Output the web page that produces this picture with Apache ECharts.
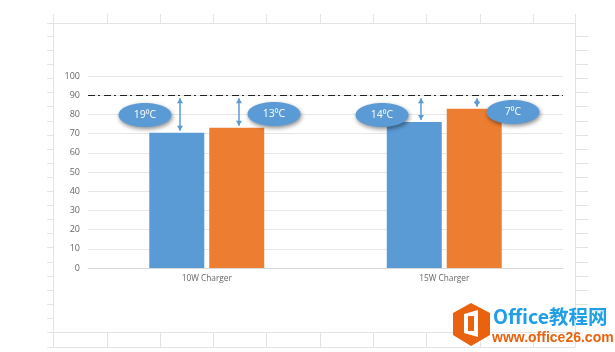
<!DOCTYPE html>
<html>
<head>
    <meta charset="utf-8">
    <style>html,body{margin:0;padding:0;background:#fff}</style>
</head>
<body>

<div id="main" style="width: 615px;height:352px;"></div>
<script src="https://cdn.jsdelivr.net/npm/echarts@6/dist/echarts.min.js"></script>
<script type="text/javascript">
    var categories = ['10W Charger', '15W Charger'];
    var seriesA = [70.5, 76];
    var seriesB = [73, 83];
    var limit = 90;
    var yTicks = [0, 10, 20, 30, 40, 50, 60, 70, 80, 90, 100];
    var notes = ['19⁰C', '13⁰C', '14⁰C', '7⁰C'];
    // 每个箭头对应的柱子的值
    var arrowValues = [seriesA[0], seriesB[0], seriesA[1], seriesB[1]];

    var sheetColor = '#e3e3e3';

    function line(x1, y1, x2, y2, z) {
        return {
            type: 'line', z: z || 0, silent: true,
            shape: {x1: x1, y1: y1, x2: x2, y2: y2},
            style: {stroke: sheetColor, lineWidth: 1}
        };
    }

    // 表格背景
    function sheetLines() {
        var list = [];
        var xs = [53, 107, 160, 213, 266, 320, 373, 426, 480, 533];
        xs.forEach(function (x) {
            list.push(line(x + 0.5, 14, x + 0.5, 23));
            list.push(line(x + 0.5, 332, x + 0.5, 347));
        });
        list.push(line(47, 23.5, 575, 23.5));
        list.push(line(47, 332.5, 575, 332.5));
        list.push(line(47, 347.5, 575, 347.5));
        list.push(line(53.5, 23, 53.5, 347));
        list.push(line(575.5, 14, 575.5, 347));
        for (var y = 36; y < 332; y += 14.1) {
            list.push(line(47, Math.round(y) + 0.5, 53, Math.round(y) + 0.5));
            list.push(line(576, Math.round(y) + 0.5, 588, Math.round(y) + 0.5));
        }
        return list;
    }

    function watermark() {
        return [
            {
                type: 'polygon', z: 20, silent: true,
                shape: {points: [[471, 303], [490, 313], [490, 335], [471, 346], [453, 335], [453, 313]]},
                style: {fill: '#e8620f'}
            },
            {
                type: 'polygon', z: 21, silent: true,
                shape: {points: [[464, 314], [478, 310], [478, 337], [464, 333]]},
                style: {fill: '#fff'}
            },
            {
                type: 'rect', z: 22, silent: true,
                shape: {x: 468, y: 316, width: 6, height: 15},
                style: {fill: '#e8620f'}
            },
            {
                type: 'text', z: 21, silent: true, x: 493, y: 307,
                style: {text: 'Office教程网', fill: '#1e9fe6', font: 'bold 19.5px "Noto Sans CJK SC", sans-serif'}
            },
            {
                type: 'text', z: 21, silent: true, x: 492, y: 331,
                style: {text: 'www.office26.com', fill: '#e8620f', font: 'bold 14px "Liberation Sans", sans-serif'}
            }
        ];
    }

    var option = {
        animation: false,
        backgroundColor: '#fff',
        grid: {left: 88, right: 52, top: 76, bottom: 84},
        xAxis: {
            type: 'category',
            data: categories,
            axisTick: {show: false},
            axisLine: {lineStyle: {color: '#d9d9d9'}},
            axisLabel: {color: '#666', fontSize: 8.3, fontFamily: 'Open Sans', margin: 7}
        },
        yAxis: {
            type: 'value',
            min: yTicks[0],
            max: yTicks[yTicks.length - 1],
            interval: 10,
            axisLine: {show: false},
            axisTick: {show: false},
            splitLine: {lineStyle: {color: '#e6e6e6'}},
            axisLabel: {color: '#666', fontSize: 9, fontFamily: 'Open Sans', margin: 8}
        },
        series: [
            {
                name: 'A', type: 'bar', data: seriesA, barWidth: 55, barGap: '9%',
                itemStyle: {color: '#5b9bd5'},
                markLine: {
                    silent: true, symbol: 'none', label: {show: false},
                    lineStyle: {color: '#222', width: 1.2, type: [7, 3, 2, 4]},
                    data: [{yAxis: limit}]
                }
            },
            {
                name: 'B', type: 'bar', data: seriesB, barWidth: 55,
                itemStyle: {color: '#ed7d31'}
            }
        ],
        graphic: sheetLines().concat(watermark())
    };
    var myChart = echarts.init(document.getElementById('main'));
    myChart.setOption(option);

    // 箭头和椭圆标注，纵向位置由数值换算
    var arrowX = [180, 239, 421, 477];
    var ellipses = [[145, 115], [274, 114], [382, 115], [513, 112]];
    var extra = [];
    arrowValues.forEach(function (v, i) {
        var top = myChart.convertToPixel({yAxisIndex: 0}, limit) + 3;
        var bottom = myChart.convertToPixel({yAxisIndex: 0}, v) - 2;
        var x = arrowX[i];
        extra.push({
            type: 'line', z: 30, silent: true,
            shape: {x1: x, y1: top, x2: x, y2: bottom},
            style: {stroke: '#5b9bd5', lineWidth: 1.5}
        });
        extra.push({
            type: 'polygon', z: 30, silent: true,
            shape: {points: [[x - 3, top + 5], [x, top], [x + 3, top + 5]]},
            style: {fill: '#5b9bd5'}
        });
        extra.push({
            type: 'polygon', z: 30, silent: true,
            shape: {points: [[x - 3, bottom - 5], [x, bottom], [x + 3, bottom - 5]]},
            style: {fill: '#5b9bd5'}
        });
        extra.push({
            type: 'ellipse', z: 31, silent: true,
            shape: {cx: ellipses[i][0], cy: ellipses[i][1], rx: 26.5, ry: 12},
            style: {fill: '#5b9bd5', shadowBlur: 4, shadowOffsetX: 1, shadowOffsetY: 2, shadowColor: 'rgba(0,0,0,0.45)'}
        });
        extra.push({
            type: 'text', z: 32, silent: true, x: ellipses[i][0], y: ellipses[i][1],
            style: {
                text: notes[i], fill: '#fff', align: 'center', verticalAlign: 'middle',
                font: '10.5px "Open Sans", sans-serif'
            }
        });
    });
    myChart.setOption({graphic: sheetLines().concat(watermark()).concat(extra)});
</script>
</body>
</html>
